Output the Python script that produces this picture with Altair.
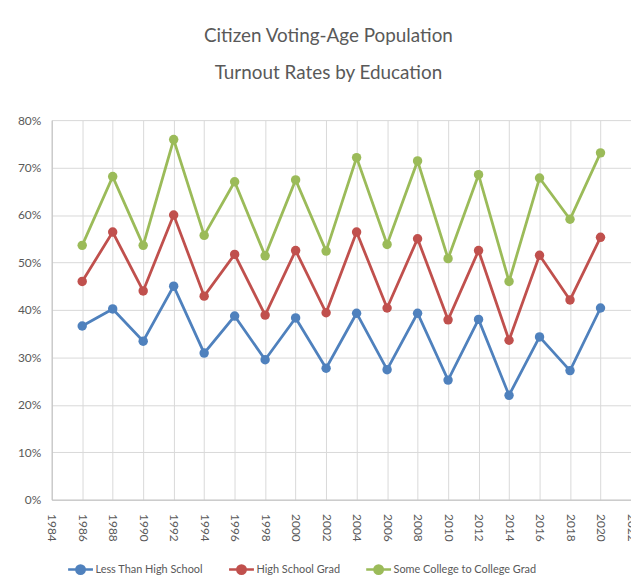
import altair as alt
import pandas as pd

years = [1986, 1988, 1990, 1992, 1994, 1996, 1998, 2000, 2002, 2004,
         2006, 2008, 2010, 2012, 2014, 2016, 2018, 2020]
less_hs = [36.6, 40.2, 33.4, 45.0, 30.9, 38.7, 29.5, 38.3, 27.7, 39.3,
           27.4, 39.3, 25.2, 38.0, 22.0, 34.3, 27.2, 40.4]
hs_grad = [46.0, 56.4, 44.0, 60.0, 42.9, 51.7, 38.9, 52.5, 39.4, 56.4,
           40.4, 55.0, 37.9, 52.5, 33.6, 51.5, 42.1, 55.3]
college = [53.6, 68.1, 53.6, 75.9, 55.7, 67.0, 51.4, 67.4, 52.4, 72.1,
           53.8, 71.4, 50.8, 68.5, 46.0, 67.8, 59.1, 73.1]
series = ["Less Than High School", "High School Grad", "Some College to College Grad"]
colors = ["#4f81bd", "#c0504d", "#9bbb59"]
x_ticks = list(range(1984, 2023, 2))
y_ticks = [0, 10, 20, 30, 40, 50, 60, 70, 80]

rows = []
for name, vals in zip(series, [less_hs, hs_grad, college]):
    for y, v in zip(years, vals):
        rows.append({"Year": y, "Group": name, "Rate": v})
df = pd.DataFrame(rows)

FONT = "Lato"
GREY = "#595959"

sym = ("M-1,0L1,0"
       "M0.34,0A0.34,0.34,0,1,1,-0.34,0A0.34,0.34,0,1,1,0.34,0"
       "M0.22,0A0.22,0.22,0,1,1,-0.22,0A0.22,0.22,0,1,1,0.22,0"
       "M0.1,0A0.1,0.1,0,1,1,-0.1,0A0.1,0.1,0,1,1,0.1,0")

x = alt.X("Year:Q",
          scale=alt.Scale(domain=[1984, 2022], nice=False, zero=False),
          axis=alt.Axis(values=x_ticks, format="d", labelAngle=90, title=None,
                        ticks=False, labelPadding=14, labelFontSize=12,
                        labelColor=GREY, labelFont=FONT, grid=True,
                        gridColor="#d9d9d9", domainColor="#bfbfbf",
                        labelOverlap=False, labelFlush=False))
y = alt.Y("Rate:Q",
          scale=alt.Scale(domain=[0, 80], nice=False),
          axis=alt.Axis(values=y_ticks, labelExpr="datum.value + '%'", title=None,
                        ticks=False, labelPadding=11, labelFontSize=12,
                        labelColor=GREY, labelFont=FONT, grid=True,
                        gridColor="#d9d9d9", domainColor="#bfbfbf"))
color = alt.Color("Group:N",
                  scale=alt.Scale(domain=series, range=colors),
                  sort=series,
                  legend=alt.Legend(title=None, orient="none", direction="horizontal",
                                    legendX=15, legendY=438,
                                    symbolType=sym, symbolSize=625,
                                    symbolStrokeWidth=2.5, columnPadding=20,
                                    labelFontSize=11, labelFont=FONT,
                                    labelColor=GREY, labelOffset=1))

lines = alt.Chart(df).mark_line(strokeWidth=2.8).encode(x=x, y=y, color=color, order="Year:Q")
points = alt.Chart(df).mark_point(filled=True, size=90, opacity=1).encode(x=x, y=y, color=color)

chart = alt.layer(lines, points).properties(
    width=583, height=382,
    autosize=alt.AutoSizeParams(type="none"),
    padding={"left": 44, "top": 111, "right": 0, "bottom": 77},
    title=alt.TitleParams(["Citizen Voting-Age Population", "Turnout Rates by Education"],
                          fontSize=19, font=FONT, fontWeight="normal", color=GREY,
                          lineHeight=38, anchor="middle", dx=-13, offset=31),
).configure_view(stroke=None)

chart.save("out.html", embed_options={"renderer": "svg", "actions": False})
